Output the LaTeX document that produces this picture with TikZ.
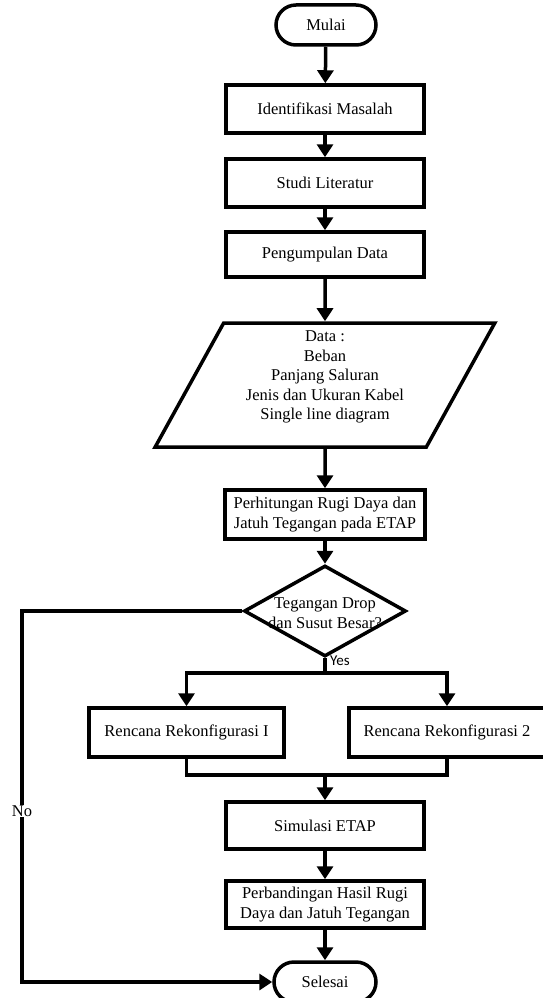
\documentclass[tikz,border=0pt]{standalone}
\usepackage{fontspec}
\setmainfont{Liberation Serif}
\newfontfamily\yesfont{Carlito}
\usetikzlibrary{arrows.meta,shapes.geometric}

\begin{document}
\begin{tikzpicture}[x=1pt, y=-1pt,
  every node/.style={font=\fontsize{16.5}{19.5}\selectfont},
  garis/.style={line width=3.5pt},
  panah/.style={garis, -{Triangle[width=16pt,length=13pt]}},
  proses/.style={draw, line width=3.5pt, inner sep=0pt, align=center,
    minimum width=198pt, minimum height=48pt},
  terminal/.style={draw, line width=3.5pt, rounded corners=20pt, inner sep=0pt,
    minimum width=100pt, minimum height=40pt},
  masukan/.style={draw, line width=3.5pt, trapezium, trapezium left angle=64,
    trapezium right angle=116, trapezium stretches=true, inner sep=2pt,
    align=center, minimum width=340pt, minimum height=124pt},
  keputusan/.style={draw, line width=3.5pt, diamond, inner sep=0pt,
    minimum width=162pt, minimum height=91pt}]

\useasboundingbox (0,0) rectangle (543,998);

\node[terminal] (mulai) at (326,25) {Mulai};
\node[proses] (identifikasi) at (325,109) {Identifikasi Masalah};
\node[proses] (studi) at (325,183) {Studi Literatur};
\node[proses, minimum height=45pt] (pengumpulan) at (325,254.5) {Pengumpulan Data};
\node[masukan] (data) at (325,385)
  {Data :\\Beban\\Panjang Saluran\\Jenis dan Ukuran Kabel\\Single line diagram\\\mbox{}};
\node[proses, minimum width=200pt, minimum height=49pt] (perhitungan) at (325,514.5)
  {Perhitungan Rugi Daya dan\\Jatuh Tegangan pada ETAP};
\node[keputusan] (cek) at (325,611) {};
\node[align=center, inner sep=0pt] (cekteks) at (325,613)
  {Tegangan Drop\\dan Susut Besar?};
\node[proses, minimum width=195pt, minimum height=49pt] (rencana1) at (186.5,732.5)
  {Rencana Rekonfigurasi I};
\node[proses, minimum width=196pt, minimum height=49pt] (rencana2) at (447,732.5)
  {Rencana Rekonfigurasi 2};
\node[proses, minimum height=47pt] (simulasi) at (325,825.5) {Simulasi ETAP};
\node[proses, minimum height=47pt] (perbandingan) at (325,904.5)
  {Perbandingan Hasil Rugi\\Daya dan Jatuh Tegangan};
\node[terminal, minimum width=102pt] (selesai) at (325,982) {Selesai};

\coordinate (cabang) at (325,673);
\coordinate (gabung) at (325,775);
\coordinate (kiri) at (22,611);

\draw[panah] (mulai) -- (identifikasi);
\draw[panah] (identifikasi) -- (studi);
\draw[panah] (studi) -- (pengumpulan);
\draw[panah] (pengumpulan) -- (data);
\draw[panah] (data) -- (perhitungan);
\draw[panah] (perhitungan) -- (cek);

\draw[panah] (cek.south) -- (cabang) -| (rencana1.north);
\draw[panah] (cabang) -| (rencana2.north);
\node[font=\yesfont\fontsize{15}{18}\selectfont, anchor=west, inner sep=0pt] (yes) at (330,661) {Yes};

\draw[garis] (rencana1.south) |- (gabung) -| (rencana2.south);
\draw[panah] (gabung) -- (simulasi);
\draw[panah] (simulasi) -- (perbandingan);
\draw[panah] (perbandingan) -- (selesai);

\draw[panah] (cek.west) -- (kiri) |- (selesai.west);
\node[fill=white, inner sep=1pt] (no) at (22,811) {No};

\end{tikzpicture}
\end{document}
